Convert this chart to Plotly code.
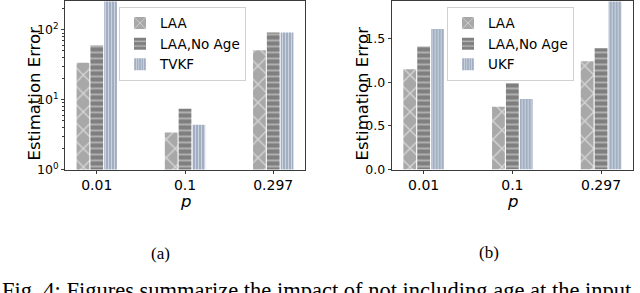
import plotly.graph_objects as go

# ---- data ----
p_labels = ["0.01", "0.1", "0.297"]
x_pos = [0, 1, 2]

a_laa = [34, 3.4, 51]
a_laa_noage = [60, 7.4, 92]
a_tvkf = [300, 4.4, 92]

b_laa = [1.15, 0.72, 1.24]
b_laa_noage = [1.41, 0.99, 1.39]
b_ukf = [1.61, 0.81, 1.95]

log_tickvals = [1, 10, 100]
log_ticktext = ["10<sup>0</sup>", "10<sup>1</sup>", "10<sup>2</sup>"]

# ---- styles ----
W, H = 640, 293
FONT = "DejaVu Sans"
SERIF = "Liberation Serif"
C_LAA = "#a8a8a8"
C_NOAGE = "#7f7f7f"
C_KF = "#a2afc3"

def bar(name, y, color, shape, size, solidity, xa, ya, legend):
    return go.Bar(
        x=x_pos, y=y, name=name, xaxis=xa, yaxis=ya, legend=legend,
        marker=dict(color=color, line=dict(width=0),
                    pattern=dict(shape=shape, fgcolor="white", bgcolor=color,
                                 size=size, solidity=solidity, fillmode="overlay")),
    )

fig = go.Figure()
fig.add_trace(bar("LAA", a_laa, C_LAA, "x", 13, 0.2, "x", "y", "legend"))
fig.add_trace(bar("LAA,No Age", a_laa_noage, C_NOAGE, "-", 6, 0.25, "x", "y", "legend"))
fig.add_trace(bar("TVKF", a_tvkf, C_KF, "|", 3, 0.3, "x", "y", "legend"))
fig.add_trace(bar("LAA", b_laa, C_LAA, "x", 13, 0.2, "x2", "y2", "legend2"))
fig.add_trace(bar("LAA,No Age", b_laa_noage, C_NOAGE, "-", 6, 0.25, "x2", "y2", "legend2"))
fig.add_trace(bar("UKF", b_ukf, C_KF, "|", 3, 0.3, "x2", "y2", "legend2"))

ybot = 1 - 173.3 / H
ytop = 1 - 0.5 / H
axis_common = dict(showline=True, mirror=True, linecolor="#3a3a3a", linewidth=1,
                   ticks="outside", ticklen=3, tickcolor="#3a3a3a", showgrid=False,
                   zeroline=False)

fig.update_layout(
    width=W, height=H, margin=dict(l=0, r=0, t=0, b=0),
    paper_bgcolor="white", plot_bgcolor="white",
    font=dict(family=FONT, color="black"),
    barmode="group", bargap=0.53, bargroupgap=0.08,
    xaxis=dict(domain=[65 / W, 305 / W], range=[-0.36, 2.36], tickvals=x_pos,
               ticktext=p_labels, tickfont=dict(size=14), anchor="y", **axis_common),
    yaxis=dict(domain=[ybot, ytop], type="log", range=[0, 2.407],
               tickvals=log_tickvals, ticktext=log_ticktext, tickfont=dict(size=12.5),
               minor=dict(ticks="outside", ticklen=2, tickcolor="#3a3a3a",
                          tickvals=[2, 3, 4, 5, 6, 7, 8, 9, 20, 30, 40, 50, 60, 70, 80, 90, 200]),
               anchor="x", **axis_common),
    xaxis2=dict(domain=[391.7 / W, 633 / W], range=[-0.36, 2.36], tickvals=x_pos,
                ticktext=p_labels, tickfont=dict(size=14), anchor="y2", **axis_common),
    yaxis2=dict(domain=[ybot, ytop], range=[0, 1.926], tickvals=[0, 0.5, 1.0, 1.5],
                tickformat=".1f", tickfont=dict(size=12.5), anchor="x2", **axis_common),
    legend=dict(x=119 / W, y=1 - 6 / H, xanchor="left", yanchor="top",
                bgcolor="white", bordercolor="#d0d0d0", borderwidth=1,
                font=dict(size=13.5), itemwidth=30, tracegroupgap=0),
    legend2=dict(x=447 / W, y=1 - 6 / H, xanchor="left", yanchor="top",
                 bgcolor="white", bordercolor="#d0d0d0", borderwidth=1,
                 font=dict(size=13.5), itemwidth=30, tracegroupgap=0),
)

ann = []
for xc in (34, 362):
    ann.append(dict(text="Estimation Error", x=xc / W, y=1 - 95 / H, xref="paper", yref="paper",
                    xanchor="center", yanchor="middle",
                    textangle=-90, showarrow=False, font=dict(size=16.5, family=FONT)))
for xc in (185, 512):
    ann.append(dict(text="<i>p</i>", x=xc / W, y=1 - 206 / H, xref="paper", yref="paper",
                    xanchor="center", yanchor="middle",
                    showarrow=False, font=dict(size=16.5, family=FONT)))
ann.append(dict(text="(a)", x=160 / W, y=1 - 260 / H, xref="paper", yref="paper",
                xanchor="center", yanchor="middle",
                showarrow=False, font=dict(size=17, family=SERIF)))
ann.append(dict(text="(b)", x=489 / W, y=1 - 259 / H, xref="paper", yref="paper",
                xanchor="center", yanchor="middle",
                showarrow=False, font=dict(size=17, family=SERIF)))
ann.append(dict(text="Fig. 4: Figures summarize the impact of not including age at the input",
                x=0 / W, y=1 - 283 / H, xref="paper", yref="paper", xanchor="left", yanchor="top",
                showarrow=False, font=dict(size=22.5, family=SERIF)))
fig.update_layout(annotations=ann)

fig.write_html("out.html", config={"displayModeBar": False},
               post_script="document.body.style.margin='0';")
